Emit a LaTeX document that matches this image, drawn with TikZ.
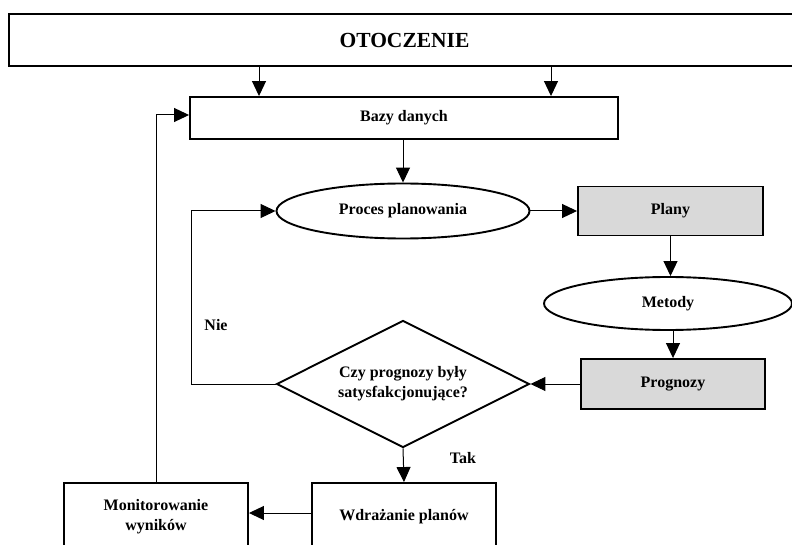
\documentclass[tikz,border=0pt]{standalone}
\usepackage{fontspec}
\setmainfont{Liberation Serif}
\usetikzlibrary{shapes.geometric,arrows.meta,calc}
\tikzset{
  txt/.style={font=\bfseries\fontsize{16}{20}\selectfont},
  box/.style={draw, line width=1.9pt, inner sep=0pt, txt, align=center},
  greybox/.style={box, fill=gray!30},
  oval/.style={ellipse, draw, line width=1.9pt, inner sep=0pt, txt},
  decision/.style={diamond, draw, line width=1.9pt, inner sep=0pt},
  lbl/.style={txt, inner sep=0pt},
  arr/.style={line width=1pt, -{Triangle[length=15pt, width=14pt]}},
}
\begin{document}
\begin{tikzpicture}[x=1pt, y=-1pt]
  \useasboundingbox (0,0) rectangle (792,545);
  \clip (0,0) rectangle (792,545);

  % environment bar and database
  \node[box, minimum width=791, minimum height=52, font=\bfseries\fontsize{21.5}{25}\selectfont] (env) at (404.5,40) {OTOCZENIE};
  \node[box, minimum width=428, minimum height=42] (db) at (404,118) {Bazy danych};

  % planning chain
  \node[oval, minimum width=253, minimum height=55] (proc) at (403,211) {Proces planowania};
  \node[greybox, minimum width=185, minimum height=49] (plans) at (670.5,211) {Plany};
  \node[oval, minimum width=248, minimum height=53] (meth) at (668,303.5) {Metody};
  \node[greybox, minimum width=184, minimum height=50] (fcst) at (673,384) {Prognozy};

  % decision
  \node[decision, minimum width=253, minimum height=127] (dec) at (403,384) {};
  \node[lbl, align=center] (dectext) at (dec.center) {Czy prognozy były\\satysfakcjonujące?};

  % implementation and monitoring
  \node[box, minimum width=184, minimum height=68] (impl) at (404,517) {Wdrażanie planów};
  \node[box, minimum width=184, minimum height=68] (mon) at (156,517) {Monitorowanie\\wyników};

  % edge labels
  \node[lbl] (no) at (216,325) {Nie};
  \node[lbl] (yes) at (463,458) {Tak};

  % connectors
  \coordinate (xa) at (259,0);
  \coordinate (xb) at (551,0);
  \draw[arr] (env.south -| xa) -- (db.north -| xa);
  \draw[arr] (env.south -| xb) -- (db.north -| xb);
  \draw[arr] (db.south -| proc.north) -- (proc.north);
  \draw[arr] (proc.east) -- (plans.west);
  \draw[arr] (plans.south) -- (plans.south |- meth.north);
  \draw[arr] (fcst.north |- meth.south) -- (fcst.north);
  \draw[arr] (fcst.west) -- (dec.east);
  \draw[arr] (dec.west) -- ++(-84,0) |- (proc.west);
  \draw[arr] (dec.south) -- (impl.north);
  \draw[arr] ([yshift=4pt]impl.west) -- ([yshift=4pt]mon.east);
  \draw[arr] (mon.north) |- ([yshift=3pt]db.west);
\end{tikzpicture}
\end{document}
